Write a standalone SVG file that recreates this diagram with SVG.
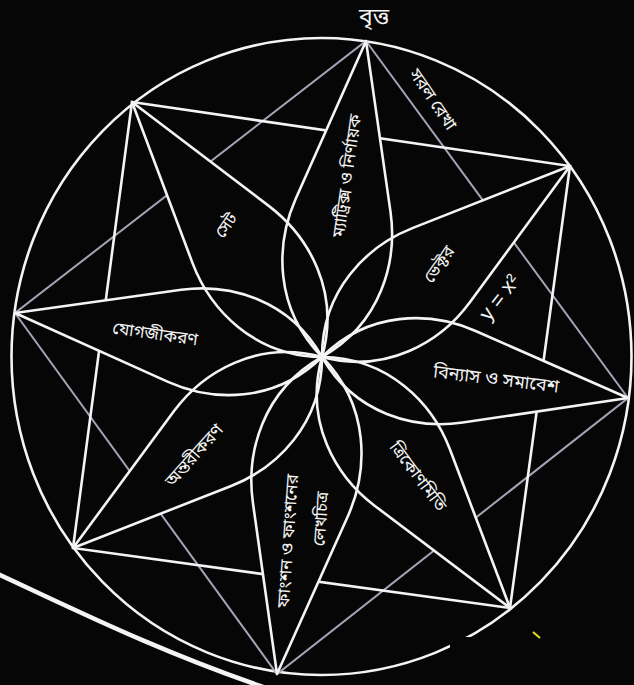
<svg xmlns="http://www.w3.org/2000/svg" xmlns:xlink="http://www.w3.org/1999/xlink" width="634" height="685" viewBox="0 0 634 685">
<style>
.w{fill:none;stroke:#f4f4f4;stroke-width:2.6;stroke-linecap:round}
.g{fill:none;stroke:#a4a4b6;stroke-width:2;stroke-linecap:round}
.pf{fill:#060606;stroke:none}
.ps{fill:none;stroke:#f4f4f4;stroke-width:2.6;stroke-linejoin:round}
.t{fill:#f4f4f4;font-family:"Noto Sans Bengali","Lohit Bengali","Noto Sans","FreeSans",sans-serif;font-size:17px;text-anchor:middle;dominant-baseline:central}
.m{fill:#f4f4f4;font-family:"Liberation Sans",Arial,sans-serif;font-size:21px;text-anchor:middle;dominant-baseline:central}
</style>
<defs>
<path id="petal" vector-effect="non-scaling-stroke" d="M0 0 L0.52 0.15 C0.67 0.193 0.87 0.17 1 0 C0.87 -0.17 0.67 -0.193 0.52 -0.15 Z"/>
</defs>
<rect x="0" y="0" width="634" height="685" fill="#060606"/>
<g id="circle">
<ellipse cx="321.5" cy="356.5" rx="310" ry="318.5" class="w"/>
</g>
<g id="connectors">
<polygon class="g" points="366,41 628,398 277,674 15,313"/>
<polygon class="w" points="132,102 570,166 510,608 73,548"/>
</g>
<g id="petals-fill">
<use xlink:href="#petal" class="pf" transform="matrix(-44,316,-316,-44,366,41)"/>
<use xlink:href="#petal" class="pf" transform="matrix(-248,191,-191,-248,570,166)"/>
<use xlink:href="#petal" class="pf" transform="matrix(-306,-41,41,-306,628,398)"/>
<use xlink:href="#petal" class="pf" transform="matrix(-188,-251,251,-188,510,608)"/>
<use xlink:href="#petal" class="pf" transform="matrix(45,-317,317,45,277,674)"/>
<use xlink:href="#petal" class="pf" transform="matrix(249,-191,191,249,73,548)"/>
<use xlink:href="#petal" class="pf" transform="matrix(307,44,-44,307,15,313)"/>
<use xlink:href="#petal" class="pf" transform="matrix(190,255,-255,190,132,102)"/>
</g>
<g id="petal-top"><use xlink:href="#petal" class="ps" transform="matrix(-44,316,-316,-44,366,41)"/></g>
<g id="petal-ur"><use xlink:href="#petal" class="ps" transform="matrix(-248,191,-191,-248,570,166)"/></g>
<g id="petal-r"><use xlink:href="#petal" class="ps" transform="matrix(-306,-41,41,-306,628,398)"/></g>
<g id="petal-lr"><use xlink:href="#petal" class="ps" transform="matrix(-188,-251,251,-188,510,608)"/></g>
<g id="petal-b"><use xlink:href="#petal" class="ps" transform="matrix(45,-317,317,45,277,674)"/></g>
<g id="petal-ll"><use xlink:href="#petal" class="ps" transform="matrix(249,-191,191,249,73,548)"/></g>
<g id="petal-l"><use xlink:href="#petal" class="ps" transform="matrix(307,44,-44,307,15,313)"/></g>
<g id="petal-ul"><use xlink:href="#petal" class="ps" transform="matrix(190,255,-255,190,132,102)"/></g>
<g id="labels">
<text class="t" x="374" y="18" style="font-size:23px">বৃত্ত</text>
<text class="t" transform="translate(432,100) rotate(56)">সরল রেখা</text>
<text class="t" transform="translate(348,176) rotate(-82)">ম্যাট্রিক্স ও নির্ণায়ক</text>
<text class="t" transform="translate(227,226) rotate(-55)">সেট</text>
<text class="t" transform="translate(440,265) rotate(-55)">ভেক্টর</text>
<text class="m" transform="translate(499,297) rotate(-52)">y = x²</text>
<text class="t" transform="translate(155,335) rotate(8)">যোগজীকরণ</text>
<text class="t" transform="translate(496,380) rotate(7)" style="font-size:18px">বিন্যাস ও সমাবেশ</text>
<text class="t" transform="translate(195,456) rotate(-48)">অন্তরীকরণ</text>
<text class="t" transform="translate(417,477) rotate(53)">ত্রিকোণমিতি</text>
<text class="t" transform="translate(289,541) rotate(-86)">ফাংশন ও ফাংশনের</text>
<text class="t" transform="translate(322,519) rotate(-86)">লেখচিত্র</text>
</g>
<g id="outer-arc">
<path d="M-2 574 C80 612 160 652 272 690" fill="none" stroke="#f4f4f4" stroke-width="4.5"/>
</g>
<rect x="450" y="637" width="184" height="48" fill="#060606"/>
<line x1="533" y1="632" x2="540" y2="638" stroke="#e8e020" stroke-width="2"/>
</svg>
